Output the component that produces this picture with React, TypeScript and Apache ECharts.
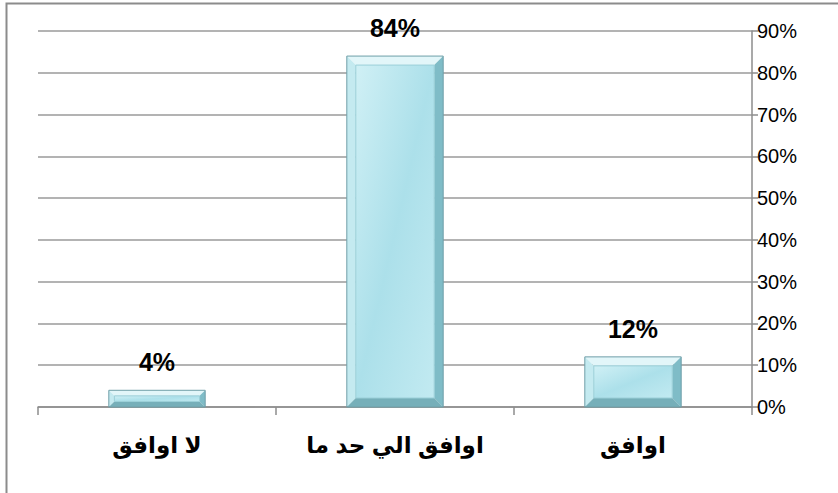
import React, { useEffect, useRef } from "react";
import * as echarts from "echarts";

const categories = ["لا اوافق", "اوافق الي حد ما", "اوافق"];
const values = [4, 84, 12];
const yTicks = { min: 0, max: 90, interval: 10 };

export default function App() {
  const ref = useRef<HTMLDivElement>(null);
  useEffect(() => {
    const chart = echarts.init(ref.current!, undefined, { renderer: "svg" });
    const font = "'Liberation Sans', Arial, 'DejaVu Sans', sans-serif";
    chart.setOption({
      animation: false,
      graphic: [
        {
          type: "rect",
          shape: { x: 6.5, y: 3.5, width: 900, height: 600 },
          style: { fill: "none", stroke: "#8c8c8c", lineWidth: 2 },
          silent: true,
          z: 100,
        },
      ],
      grid: { left: 38, right: 86, top: 31, bottom: 86, containLabel: false },
      xAxis: {
        type: "category",
        data: categories,
        boundaryGap: true,
        axisLine: { show: true, lineStyle: { color: "#8c8c8c", width: 1.5 } },
        axisTick: { show: true, length: 8, alignWithLabel: false, lineStyle: { color: "#8c8c8c", width: 1.5 } },
        axisLabel: { color: "#000", fontSize: 23, fontWeight: "bold", fontFamily: font, margin: 26 },
        splitLine: { show: false },
      },
      yAxis: {
        type: "value",
        position: "right",
        min: yTicks.min,
        max: yTicks.max,
        interval: yTicks.interval,
        axisLine: { show: true, lineStyle: { color: "#8c8c8c", width: 1.5 } },
        axisTick: { show: true, length: 6, inside: false, lineStyle: { color: "#8c8c8c", width: 1.5 } },
        axisLabel: { color: "#000", fontSize: 20, fontFamily: font, margin: 5, formatter: "{value}%" },
        splitLine: { show: true, lineStyle: { color: "#9a9a9a", width: 1.5 } },
      },
      series: [
        {
          type: "custom",
          data: values.map((v, i) => [i, v]),
          encode: { x: 0, y: 1 },
          renderItem: (params: any, api: any) => {
            const idx = api.value(0);
            const val = api.value(1);
            const top = api.coord([idx, val]);
            const base = api.coord([idx, 0]);
            const bw = api.size([1, 0])[0] * 0.405;
            const x0 = top[0] - bw / 2;
            const x1 = top[0] + bw / 2;
            const y0 = top[1];
            const y1 = base[1];
            const h = y1 - y0;
            const b = Math.min(9, h / 3, bw / 6);
            const ix0 = x0 + b, ix1 = x1 - b, iy0 = y0 + b, iy1 = y1 - b;
            return {
              type: "group",
              children: [
                {
                  type: "polygon",
                  shape: { points: [[x0, y0], [x1, y0], [ix1, iy0], [ix0, iy0]] },
                  style: { fill: "#e2f6f9" },
                },
                {
                  type: "polygon",
                  shape: { points: [[x0, y0], [ix0, iy0], [ix0, iy1], [x0, y1]] },
                  style: { fill: "#c4eaf0" },
                },
                {
                  type: "polygon",
                  shape: { points: [[x1, y0], [x1, y1], [ix1, iy1], [ix1, iy0]] },
                  style: { fill: "#7fbcc7" },
                },
                {
                  type: "polygon",
                  shape: { points: [[x0, y1], [ix0, iy1], [ix1, iy1], [x1, y1]] },
                  style: { fill: "#76afb9" },
                },
                {
                  type: "rect",
                  shape: { x: ix0, y: iy0, width: ix1 - ix0, height: iy1 - iy0 },
                  style: {
                    fill: new echarts.graphic.LinearGradient(0, 0, 1, 1, [
                      { offset: 0, color: "#d0f0f5" },
                      { offset: 0.5, color: "#ace0ea" },
                      { offset: 1, color: "#c2eaf1" },
                    ]),
                    stroke: "#9acfd8",
                    lineWidth: 1,
                  },
                },
                {
                  type: "rect",
                  shape: { x: x0, y: y0, width: bw, height: h },
                  style: { fill: "none", stroke: "#6f9fa8", lineWidth: 1 },
                },
                {
                  type: "text",
                  style: {
                    text: val + "%",
                    x: top[0],
                    y: y0 - 28,
                    align: "center",
                    verticalAlign: "middle",
                    fill: "#000",
                    font: `bold 25px ${font}`,
                  },
                },
              ],
            };
          },
        },
      ],
    });
    return () => chart.dispose();
  }, []);
  return (
    <div
      ref={ref}
      style={{ position: "absolute", left: 0, top: 0, width: 838, height: 493, background: "#fff" }}
    />
  );
}
